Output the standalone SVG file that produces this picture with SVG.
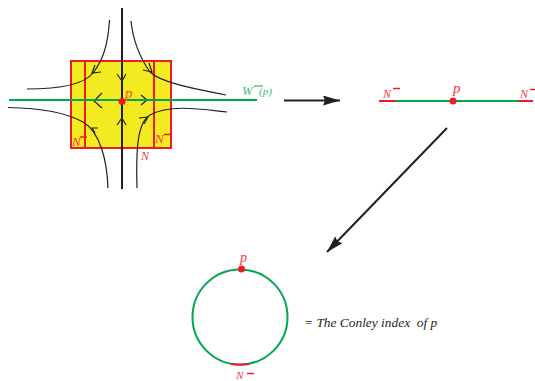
<svg xmlns="http://www.w3.org/2000/svg" width="535" height="381" viewBox="0 0 535 381">
<style>
.t{font-family:"Liberation Serif",serif;font-style:italic}
.r{fill:#ee3a43}
.c{fill:none;stroke:#231f20;stroke-width:1.200}
.red{fill:none;stroke:#ed1c24;stroke-width:2}
.grn{fill:none;stroke:#00a651;stroke-width:2}
.blk{fill:none;stroke:#231f20;stroke-width:2}
.dot{fill:#ed1c24}
</style>
<defs>
<marker id="ah" markerUnits="userSpaceOnUse" markerWidth="18" markerHeight="12" refX="17" refY="5" orient="auto"><path d="M0,0 L17,5 L0,10 L2,5 Z" fill="#231f20"/></marker>
</defs>
<g id="neighbourhood">
<rect x="71" y="61" width="100" height="87" fill="#f4ea20" stroke="#ed1c24" stroke-width="2"/>
<path class="red" d="M85,61V148M154,61V148"/>
<text class="t r" x="72" y="146" font-size="13">N</text>
<path d="M80,137H87" stroke="#ed1c24" stroke-width="1.500"/>
<text class="t r" x="155" y="143" font-size="13">N</text>
<path d="M164,134.500H171" stroke="#ed1c24" stroke-width="1.500"/>
<text class="t r" x="141" y="160" font-size="12">N</text>
</g>
<g id="connectors">
<path class="c" d="M109.500,20C108,45 103,60 93,73C85,83 65,89 27,89"/>
<path class="c" d="M131,21C133,40 138,55 150,72C160,82 190,88 226,95"/>
<path class="c" d="M8,107.500C35,108 65,112 83,122C100,132 107,160 108,188"/>
<path class="c" d="M227,112C200,109 170,104 150,115C137,123 136,150 137,188"/>
<path class="c" d="M95,65L92,73L101,72"/>
<path class="c" d="M143,70L152,72L149,63"/>
<path class="c" d="M98,128L92,128L95,133"/>
<path class="c" d="M139,118L148,117L144,124"/>
<path class="c" d="M117,74L122,81L126,74"/>
<path class="c" d="M117,125L122,118L126,125"/>
<path class="c" d="M102,93L94,101L102,108"/>
<path class="c" d="M141,95L147,100L141,105"/>
<path class="blk" d="M122,8V189"/>
<path class="grn" d="M9,100H257"/>
<path d="M284,100.500H340" stroke="#231f20" stroke-width="2" marker-end="url(#ah)" fill="none"/>
<path d="M447,128L327,252" stroke="#231f20" stroke-width="2" marker-end="url(#ah)" fill="none"/>
</g>
<g id="p-left">
<circle class="dot" cx="122" cy="101.500" r="3.500"/>
<text class="t" x="125" y="98" font-size="15" fill="#f0532d">p</text>
</g>
<g id="wminus">
<text class="t" x="242" y="95" font-size="13" fill="#3dba7a">W</text>
<path d="M254,86H263" stroke="#3dba7a" stroke-width="1.300"/>
<text class="t" x="259" y="95" font-size="11" fill="#3dba7a">(p)</text>
</g>
<g id="segment">
<path class="grn" d="M396,101H518"/>
<path class="red" d="M379,101H396M518,101H533"/>
<circle class="dot" cx="453" cy="101" r="3.500"/>
<text class="t r" x="383" y="98" font-size="12">N</text>
<path d="M393,88.500H400" stroke="#ed1c24" stroke-width="1.500"/>
<text class="t r" x="520" y="98" font-size="12">N</text>
<path d="M530,89.500H535" stroke="#ed1c24" stroke-width="1.500"/>
<text class="t r" x="453" y="93" font-size="15">p</text>
</g>
<g id="circle">
<circle class="grn" cx="240" cy="317" r="47.500"/>
<path class="red" d="M231,364C237,365 243,365 249,364"/>
<circle class="dot" cx="241.500" cy="269" r="3.500"/>
<text class="t r" x="240" y="262" font-size="14">p</text>
<text class="t r" x="236" y="379" font-size="11">N</text>
<path d="M247,373.500H254" stroke="#ed1c24" stroke-width="1.500"/>
</g>
<g id="caption">
<text class="t" x="304" y="327" font-size="13.400" fill="#231f20" xml:space="preserve">= The Conley index  of p</text>
</g>
</svg>
